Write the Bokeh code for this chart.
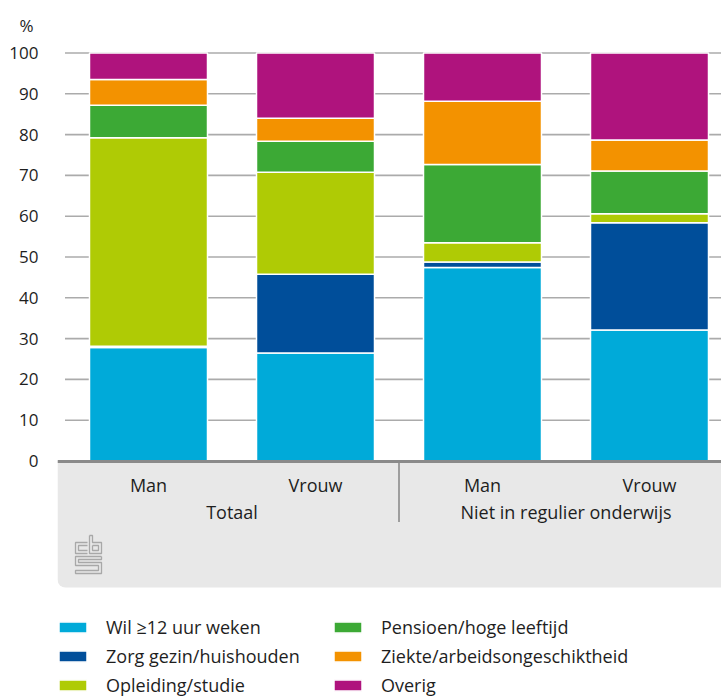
from bokeh.plotting import figure
from bokeh.models import (ColumnDataSource, FixedTicker, LinearAxis, Range1d,
                          BoxAnnotation)
from bokeh.embed import file_html
from bokeh.resources import INLINE

# ---------------- data ----------------
subgroups = ["Man", "Vrouw", "Man", "Vrouw"]
groups = ["Totaal", "Niet in regulier onderwijs"]
series = ["Wil ≥12 uur weken", "Zorg gezin/huishouden", "Opleiding/studie",
          "Pensioen/hoge leeftijd", "Ziekte/arbeidsongeschiktheid", "Overig"]
wil = [27.8, 26.5, 47.4, 32.1]
zorg = [0.3, 19.3, 1.4, 26.3]
opleiding = [51.1, 25.0, 4.7, 2.2]
pensioen = [8.0, 7.6, 19.2, 10.5]
ziekte = [6.3, 5.6, 15.5, 7.6]
overig = [6.5, 16.0, 11.8, 21.3]
y_ticks = [0, 10, 20, 30, 40, 50, 60, 70, 80, 90, 100]
unit = "%"
colors = ["#00aad9", "#004e9a", "#afcb05", "#3ca935", "#f39200", "#af137d"]

FONT = "Open Sans"
TXT = "#1e1e1e"

# ---------------- geometry ----------------
W, H = 721, 697
frame_left_px = 57
frame_top_px = 40
px_per_cat = 167.0
cat_offset_px = 7.5
px_per_unit = 4.08
top_pad_px = 12.5
frame_w = W - frame_left_px
frame_h = H - frame_top_px

x_start = -cat_offset_px / px_per_cat
x_end = x_start + frame_w / px_per_cat
y_end = max(y_ticks) + top_pad_px / px_per_unit
y_start = y_end - frame_h / px_per_unit
panel_bottom = -126.5 / px_per_unit

xpos = [i + 0.5 for i in range(len(subgroups))]
group_pos = [1.0, 3.0]

p = figure(width=W, height=H, x_range=Range1d(x_start, x_end),
           y_range=Range1d(y_start, y_end), output_backend="svg",
           toolbar_location=None, min_border_left=frame_left_px,
           min_border_right=0, min_border_top=frame_top_px, min_border_bottom=0)
p.outline_line_color = None
p.xgrid.visible = False
p.ygrid.visible = False

# unit label as title
p.title.text = unit
p.title.align = "left"
p.title.offset = -38
p.title.standoff = 7
p.title.text_font = FONT
p.title.text_font_size = "17px"
p.title.text_font_style = "normal"
p.title.text_color = TXT

# grey axis panel
panel = BoxAnnotation(top=0, bottom=panel_bottom, fill_color="#e8e8e8",
                      fill_alpha=1, line_color=None, level="underlay",
                      border_radius=(0, 0, 0, 8))
p.add_layout(panel)

# gridlines (start at the first category edge)
p.segment(x0=0, x1=x_end, y0=y_ticks[1:], y1=y_ticks[1:],
          line_color="#ababab", line_width=1.6)

# stacked bars
src = ColumnDataSource(dict(x=xpos, **{s: v for s, v in zip(series, [wil, zorg, opleiding, pensioen, ziekte, overig])}))
rs = p.vbar_stack(series, x="x", width=118 / px_per_cat, color=colors,
                  line_color="white", line_width=1.5, source=src,
                  legend_label=series)

# separator between groups
p.segment(x0=[2.0], x1=[2.0], y0=[0], y1=[-61 / px_per_unit],
          line_color="#555555", line_width=1)

# cbs logo (decoration)
def lx(v):
    return x_start + (75 + v - 57) / px_per_cat
def ly(v):
    return (460.5 - (535 + v)) / px_per_unit
logo = [
    [(12, 7), (0, 7), (0, 18), (12, 18)],
    [(12, 10), (3, 10), (3, 15), (12, 15)],
    [(14, 0), (14, 18), (26, 18), (26, 7), (17, 7), (17, 0), (14, 0)],
    [(17, 10), (23, 10), (23, 15), (17, 15), (17, 10)],
    [(26, 21), (0, 21), (0, 30), (23, 30), (23, 35), (0, 35), (0, 38),
     (26, 38), (26, 27), (3, 27), (3, 24), (26, 24), (26, 21)],
]
p.multi_line(xs=[[lx(a) for a, b in seg] for seg in logo],
             ys=[[ly(b) for a, b in seg] for seg in logo],
             line_color="#a8a8a8", line_width=1.3)

# y axis
ya = p.yaxis[0]
ya.ticker = FixedTicker(ticks=y_ticks)
ya.axis_line_color = None
ya.major_tick_line_color = None
ya.minor_tick_line_color = None
ya.major_label_standoff = 13
ya.major_label_text_font = FONT
ya.major_label_text_font_size = "17px"
ya.major_label_text_color = TXT

# x axis (sub categories) inside the grey panel
xa = p.xaxis[0]
xa.fixed_location = 0
xa.ticker = FixedTicker(ticks=xpos)
xa.major_label_overrides = {x: s for x, s in zip(xpos, subgroups)}
xa.axis_line_color = "#8a8a8a"
xa.axis_line_width = 3
xa.major_tick_line_color = None
xa.minor_tick_line_color = None
xa.major_label_standoff = 6
xa.major_label_text_font = FONT
xa.major_label_text_font_size = "18px"
xa.major_label_text_color = TXT

# group axis
ga = LinearAxis(fixed_location=0)
ga.ticker = FixedTicker(ticks=group_pos)
ga.major_label_overrides = {x: s for x, s in zip(group_pos, groups)}
ga.axis_line_color = None
ga.major_tick_line_color = None
ga.minor_tick_line_color = None
ga.major_label_standoff = 33
ga.major_label_text_font = FONT
ga.major_label_text_font_size = "18px"
ga.major_label_text_color = TXT
p.add_layout(ga, "below")

# legend
lg = p.legend[0]
lg.location = (-2, 0)
lg.orientation = "vertical"
lg.ncols = 2
lg.background_fill_alpha = 0
lg.border_line_color = None
lg.padding = 0
lg.margin = 0
lg.spacing = 5
lg.glyph_width = 35
lg.glyph_height = 14
lg.label_standoff = 16
lg.label_width = 219
lg.label_height = 20
lg.label_text_font = FONT
lg.label_text_font_size = "18px"
lg.label_text_color = TXT

open("out.html", "w").write(file_html(p, INLINE))
